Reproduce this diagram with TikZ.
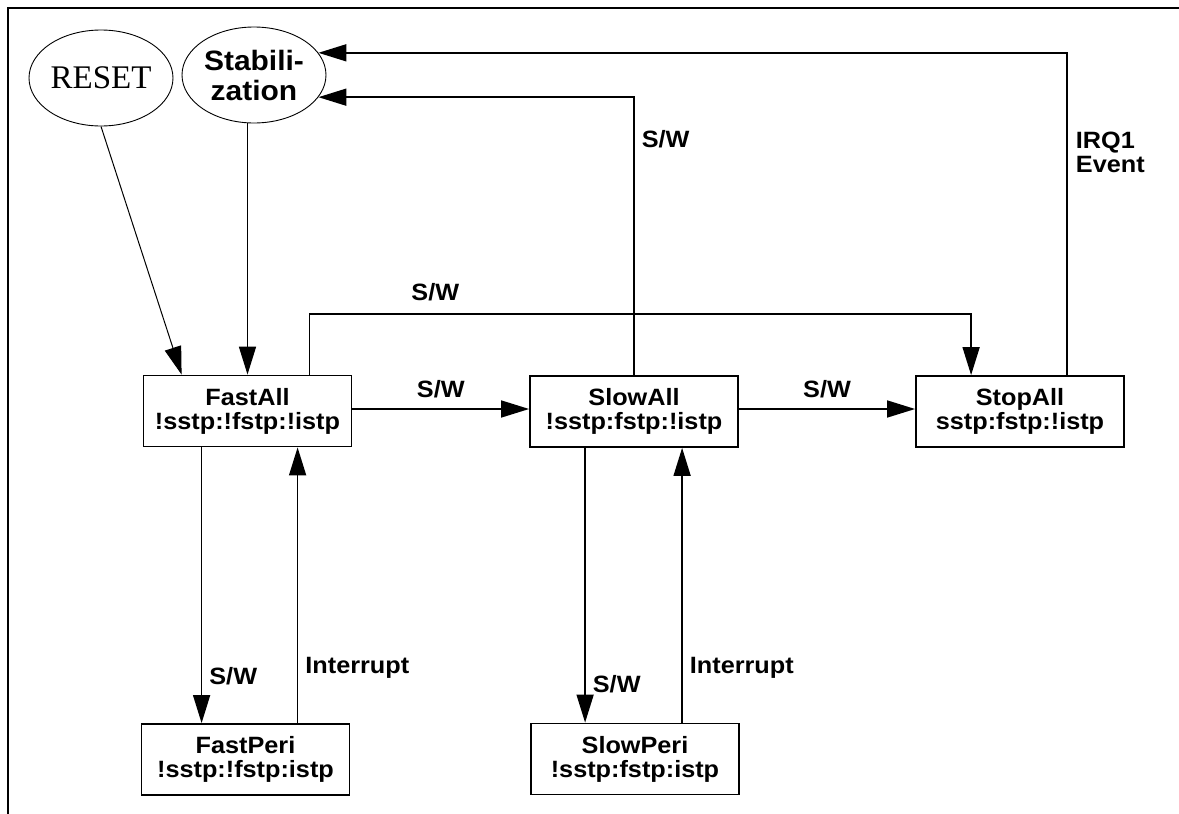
\documentclass[tikz,border=0pt]{standalone}
\usepackage{fontspec}
\setmainfont{Liberation Sans}
\newfontfamily\lblfont[FakeStretch=1.07]{Liberation Sans}
\newfontfamily\resetfont{Liberation Serif}
\usetikzlibrary{shapes.geometric,positioning,calc,arrows.meta}

\begin{document}
\begin{tikzpicture}[x=0.5pt, y=-0.5pt, >={Triangle[length=14pt,width=8.5pt]},
    statebox/.style={draw, line width=0.9pt, minimum width=104pt, minimum height=35.5pt,
        inner sep=0pt, align=center, font=\lblfont\bfseries\fontsize{11.8pt}{11.9pt}\selectfont},
    stateoval/.style={ellipse, draw, line width=0.45pt, minimum width=72pt, minimum height=48pt,
        inner sep=0pt, align=center},
    edge/.style={->, line width=0.8pt},
    thinedge/.style={->, line width=0.5pt},
    edgelabel/.style={inner sep=0pt, font=\lblfont\bfseries\fontsize{11.8pt}{11.9pt}\selectfont}]
    \useasboundingbox (0,0) rectangle (1179,814);

    % Frame
    \draw[line width=1.2pt] (8,814) -- (8,8) -- (1179,8);

    % Start states
    \node[stateoval, font=\resetfont\fontsize{16.5pt}{18pt}\selectfont] (reset) at (101,78) {RESET};
    \node[stateoval, font=\lblfont\bfseries\fontsize{14pt}{15pt}\selectfont] (stab) at (254,75) {Stabili-\\zation};

    % Power states
    \node[statebox] (fastall) at (247.5,411) {FastAll\\!sstp:!fstp:!istp};
    \node[statebox] (slowall) at (634,411.5) {SlowAll\\!sstp:fstp:!istp};
    \node[statebox] (stopall) at (1020,411.5) {StopAll\\sstp:fstp:!istp};
    \node[statebox] (fastperi) at (245.5,759.5) {FastPeri\\!sstp:!fstp:istp};
    \node[statebox] (slowperi) at (635,759) {SlowPeri\\!sstp:fstp:istp};

    % Helper points
    \coordinate (topy) at (0,314);
    \coordinate (fastout) at ($(fastall.north west)+(167,0)$);
    \coordinate (stopin) at ($(stopall.north west)+(56,0)$);
    \coordinate (stopout) at ($(stopall.north west)+(152,0)$);

    % Entry
    \draw[thinedge] (reset.south) -- ($(fastall.north west)+(39,0)$);
    \draw[edge] (fastall.north |- stab.south) -- (fastall.north);

    % Main row
    \draw[edge] ($(fastall.east)+(0,-2)$) -- node[edgelabel, above=5pt]{S/W} ($(slowall.west)+(0,-2.5)$);
    \draw[edge] ($(slowall.east)+(0,-2.5)$) -- node[edgelabel, above=5pt]{S/W} ($(stopall.west)+(0,-2.5)$);
    \draw[edge] (fastout) -- (fastout |- topy) -- node[edgelabel, above=6pt, pos=0.19]{S/W} (stopin |- topy) -- (stopin);

    % Back to stabilization
    \draw[edge] (slowall.north) |- node[edgelabel, right=3.5pt, pos=0.425]{S/W} (stab.-19);
    \draw[edge] (stopout) |- node[edgelabel, right=4pt, pos=0.346, align=left]{IRQ1\\Event} (stab.19);

    % Peripheral states
    \draw[edge] ($(fastall.south west)+(59,0)$) -- node[edgelabel, right=3.5pt, pos=0.83]{S/W} ($(fastperi.north west)+(61,0)$);
    \draw[edge] ($(fastperi.north west)+(157,0)$) -- node[edgelabel, right=3.5pt, pos=0.2]{Interrupt} ($(fastall.south west)+(155,0)$);
    \draw[edge] ($(slowall.south west)+(56,0)$) -- node[edgelabel, right=3.5pt, pos=0.86]{S/W} ($(slowperi.north west)+(55,0)$);
    \draw[edge] ($(slowperi.north west)+(152,0)$) -- node[edgelabel, right=3.5pt, pos=0.2]{Interrupt} ($(slowall.south west)+(153,0)$);
\end{tikzpicture}
\end{document}
